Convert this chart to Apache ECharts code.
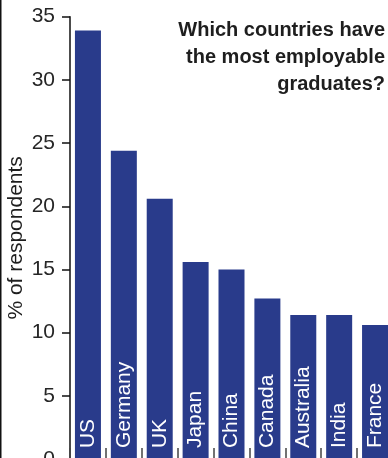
<!DOCTYPE html>
<html>
<head>
<meta charset="utf-8">
<script src="https://cdn.jsdelivr.net/npm/echarts@6/dist/echarts.min.js"></script>
<style>
html, body { margin: 0; padding: 0; background: #fff; }
#chart { width: 388px; height: 458px; }
</style>
</head>
<body>
<div id="chart"></div>
<script>
var countries = ['US', 'Germany', 'UK', 'Japan', 'China', 'Canada', 'Australia', 'India', 'France'];
var share = [33.9, 24.4, 20.6, 15.6, 15.0, 12.7, 11.4, 11.4, 10.6];
var yTicks = [0, 5, 10, 15, 20, 25, 30, 35];
var titleLines = ['Which countries have', 'the most employable', 'graduates?'];

var myChart = echarts.init(document.getElementById('chart'));
var font = '"Liberation Sans", Arial, sans-serif';

// title right aligned, one element per line
var titleGraphics = titleLines.map(function(line, i) {
	return {
		type: 'text',
		right: 3,
		top: 20 + i * 27,
		style: {
			text: line,
			font: 'bold 20px ' + font,
			fill: '#1e1e1e',
			align: 'right'
		}
	};
});

var option = {
	backgroundColor: '#fff',
	animation: false,
	graphic: [{
		type: 'line',
		shape: { x1: 0.75, y1: 0, x2: 0.75, y2: 458 },
		style: { stroke: '#111', lineWidth: 1.5 }
	}].concat(titleGraphics),
	grid: {
		left: 70,
		right: -5,
		top: 16.7,
		bottom: -1.1,
		containLabel: false,
		outerBoundsMode: 'none'
	},
	xAxis: {
		type: 'category',
		data: countries,
		axisLine: { show: false },
		axisTick: {
			show: true,
			inside: true,
			length: 11,
			interval: 0,
			lineStyle: { color: '#444', width: 1.5 }
		},
		axisLabel: { show: false }
	},
	yAxis: {
		type: 'value',
		min: yTicks[0],
		max: yTicks[yTicks.length - 1],
		interval: 5,
		name: '% of respondents',
		nameLocation: 'middle',
		nameRotate: 90,
		nameGap: 43,
		nameMoveOverlap: false,
		nameTextStyle: {
			fontFamily: font,
			fontSize: 21,
			color: '#1e1e1e'
		},
		axisLine: {
			show: true,
			lineStyle: { color: '#111', width: 1.5 }
		},
		axisTick: {
			show: true,
			length: 8,
			lineStyle: { color: '#111', width: 1.5 }
		},
		axisLabel: {
			margin: 15,
			fontFamily: font,
			fontSize: 21,
			color: '#262626'
		},
		splitLine: { show: false }
	},
	series: [{
		type: 'bar',
		data: share,
		barWidth: 26,
		itemStyle: { color: '#293b8b' },
		label: {
			show: true,
			position: 'insideBottom',
			rotate: 90,
			align: 'left',
			verticalAlign: 'middle',
			distance: 11,
			formatter: '{b}',
			fontFamily: font,
			fontSize: 21,
			color: '#fff'
		}
	}]
};
myChart.setOption(option);
</script>
</body>
</html>
